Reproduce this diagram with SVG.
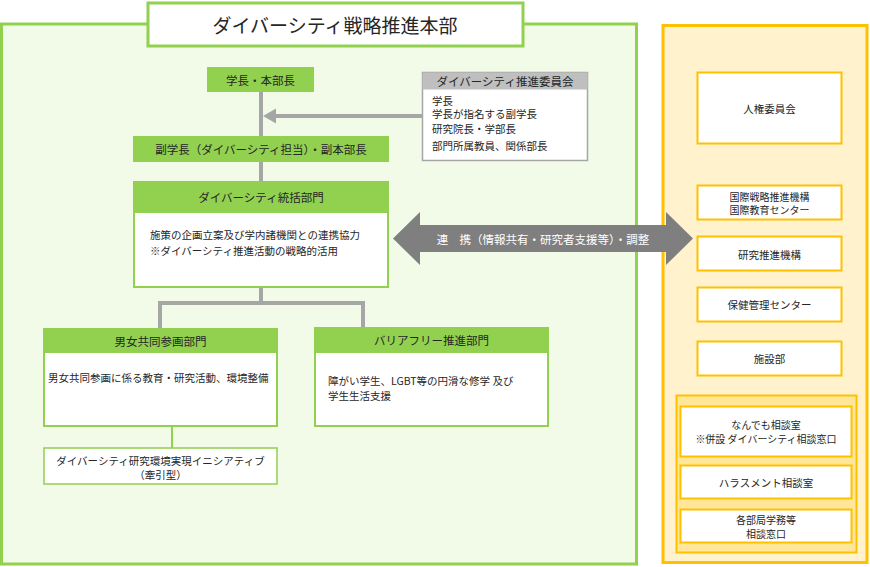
<svg xmlns="http://www.w3.org/2000/svg" width="870" height="567" viewBox="0 0 870 567">
<style>
text{font-family:"Noto Sans CJK JP","Liberation Sans",sans-serif;fill:#262626;dominant-baseline:central}
.c{text-anchor:middle}
.t{font-size:10.5px}
.t2{font-size:10px}
.h{font-size:11.5px}
.gfill{fill:#92d050}
.wb{fill:#fff;stroke:#92d050;stroke-width:2}
.yb{fill:#fff;stroke:#ffc000;stroke-width:2}
.conn{stroke:#a6a6a6;stroke-width:4;fill:none}
</style>
<rect width="870" height="567" fill="#fff"/>
<!-- containers -->
<g id="hq">
<rect x="1.5" y="24" width="635" height="540" fill="#f2fbe8" stroke="#92d050" stroke-width="3"/>
<rect x="148" y="3" width="375" height="43" fill="#fff" stroke="#92d050" stroke-width="3"/>
<text x="335" y="24.5" class="c" style="font-size:19px">ダイバーシティ戦略推進本部</text>
</g>
<g id="partners">
<rect x="663" y="25.5" width="204" height="537" fill="#fff2cc" stroke="#ffc000" stroke-width="3"/>
</g>
<!-- connectors -->
<g id="connectors">
<line class="conn" x1="261" y1="92" x2="261" y2="182"/>
<line class="conn" x1="422" y1="116" x2="272" y2="116"/>
<polygon points="263,116 276,108.5 276,123.5" fill="#a6a6a6"/>
<polyline class="conn" points="261,287 261,303"/>
<polyline class="conn" points="160,328 160,303 363,303 363,328"/>
<line x1="172" y1="426" x2="172" y2="448" stroke="#92d050" stroke-width="2"/>
<polygon points="393,238.5 420,212 420,225 666,225 666,212 693,238.5 666,265 666,252 420,252 420,265" fill="#7f7f7f"/>
<text x="543" y="239" class="c" style="font-size:11.5px;fill:#fff">連　携（情報共有・研究者支援等）・調整</text>
</g>
<!-- nodes -->
<g id="president">
<rect x="207" y="67" width="107" height="25" class="gfill"/>
<text x="260.5" y="79.5" class="c h">学長・本部長</text>
</g>
<g id="committee">
<rect x="422.5" y="72.5" width="165" height="88" fill="#fff" stroke="#a6a6a6" stroke-width="1.5"/>
<rect x="422.5" y="72.5" width="165" height="17" fill="#bfbfbf"/>
<text x="505" y="81" class="c h">ダイバーシティ推進委員会</text>
<text x="432" y="100" class="t">学長</text>
<text x="432" y="113.5" class="t">学長が指名する副学長</text>
<text x="432" y="128.5" class="t">研究院長・学部長</text>
<text x="432" y="145" class="t">部門所属教員、関係部長</text>
</g>
<g id="vice-president">
<rect x="133" y="136" width="256" height="26" class="gfill"/>
<text x="261" y="149" class="c h">副学長（ダイバーシティ担当）・副本部長</text>
</g>
<g id="integration">
<rect x="134" y="182" width="254" height="105" class="wb"/>
<rect x="133" y="181" width="256" height="32" class="gfill"/>
<text x="261" y="197" class="c h">ダイバーシティ統括部門</text>
<text x="150" y="234" class="t">施策の企画立案及び学内諸機関との連携協力</text>
<text x="150" y="250" class="t">※ダイバーシティ推進活動の戦略的活用</text>
</g>
<g id="gender">
<rect x="44" y="329" width="233" height="97" class="wb"/>
<rect x="43" y="328" width="235" height="25" class="gfill"/>
<text x="160.5" y="340.5" class="c h">男女共同参画部門</text>
<text x="48" y="377" class="t">男女共同参画に係る教育・研究活動、環境整備</text>
</g>
<g id="initiative">
<rect x="44" y="448" width="233" height="36" class="wb" style="stroke-width:1.5"/>
<text x="160.5" y="460" class="c t">ダイバーシティ研究環境実現イニシアティブ</text>
<text x="160.5" y="474" class="c t">（牽引型）</text>
</g>
<g id="barrier-free">
<rect x="315" y="328" width="233" height="98" class="wb"/>
<rect x="314" y="327" width="235" height="26" class="gfill"/>
<text x="431.5" y="340" class="c h">バリアフリー推進部門</text>
<text x="328" y="380" class="t">障がい学生、LGBT等の円滑な修学 及び</text>
<text x="328" y="395" class="t">学生生活支援</text>
</g>
<g id="human-rights">
<rect x="697.5" y="72.5" width="144" height="71" class="yb"/>
<text x="769.5" y="108" class="c t">人権委員会</text>
</g>
<g id="international">
<rect x="697.5" y="185.5" width="144" height="34" class="yb"/>
<text x="769.5" y="196" class="c t2">国際戦略推進機構</text>
<text x="769.5" y="209.5" class="c t2">国際教育センター</text>
</g>
<g id="research">
<rect x="697.5" y="236.5" width="144" height="34" class="yb"/>
<text x="769.5" y="254" class="c t">研究推進機構</text>
</g>
<g id="health">
<rect x="697.5" y="287.5" width="144" height="34" class="yb"/>
<text x="769.5" y="304.5" class="c t">保健管理センター</text>
</g>
<g id="facilities">
<rect x="697.5" y="341.5" width="144" height="34" class="yb"/>
<text x="769.5" y="358.5" class="c t">施設部</text>
</g>
<g id="consult-group">
<rect x="676.5" y="395.5" width="180" height="157" fill="#ffe699" stroke="#ffc000" stroke-width="2"/>
</g>
<g id="consult">
<rect x="680.5" y="406.5" width="171" height="50" class="yb"/>
<text x="766" y="424.5" class="c t2">なんでも相談室</text>
<text x="766" y="438" class="c t2">※併設 ダイバーシティ相談窓口</text>
</g>
<g id="harassment">
<rect x="680.5" y="465.5" width="171" height="33" class="yb"/>
<text x="766" y="482" class="c t">ハラスメント相談室</text>
</g>
<g id="faculty-desk">
<rect x="680.5" y="509.5" width="171" height="33" class="yb"/>
<text x="766" y="519.5" class="c t2">各部局学務等</text>
<text x="766" y="533" class="c t2">相談窓口</text>
</g>
</svg>
